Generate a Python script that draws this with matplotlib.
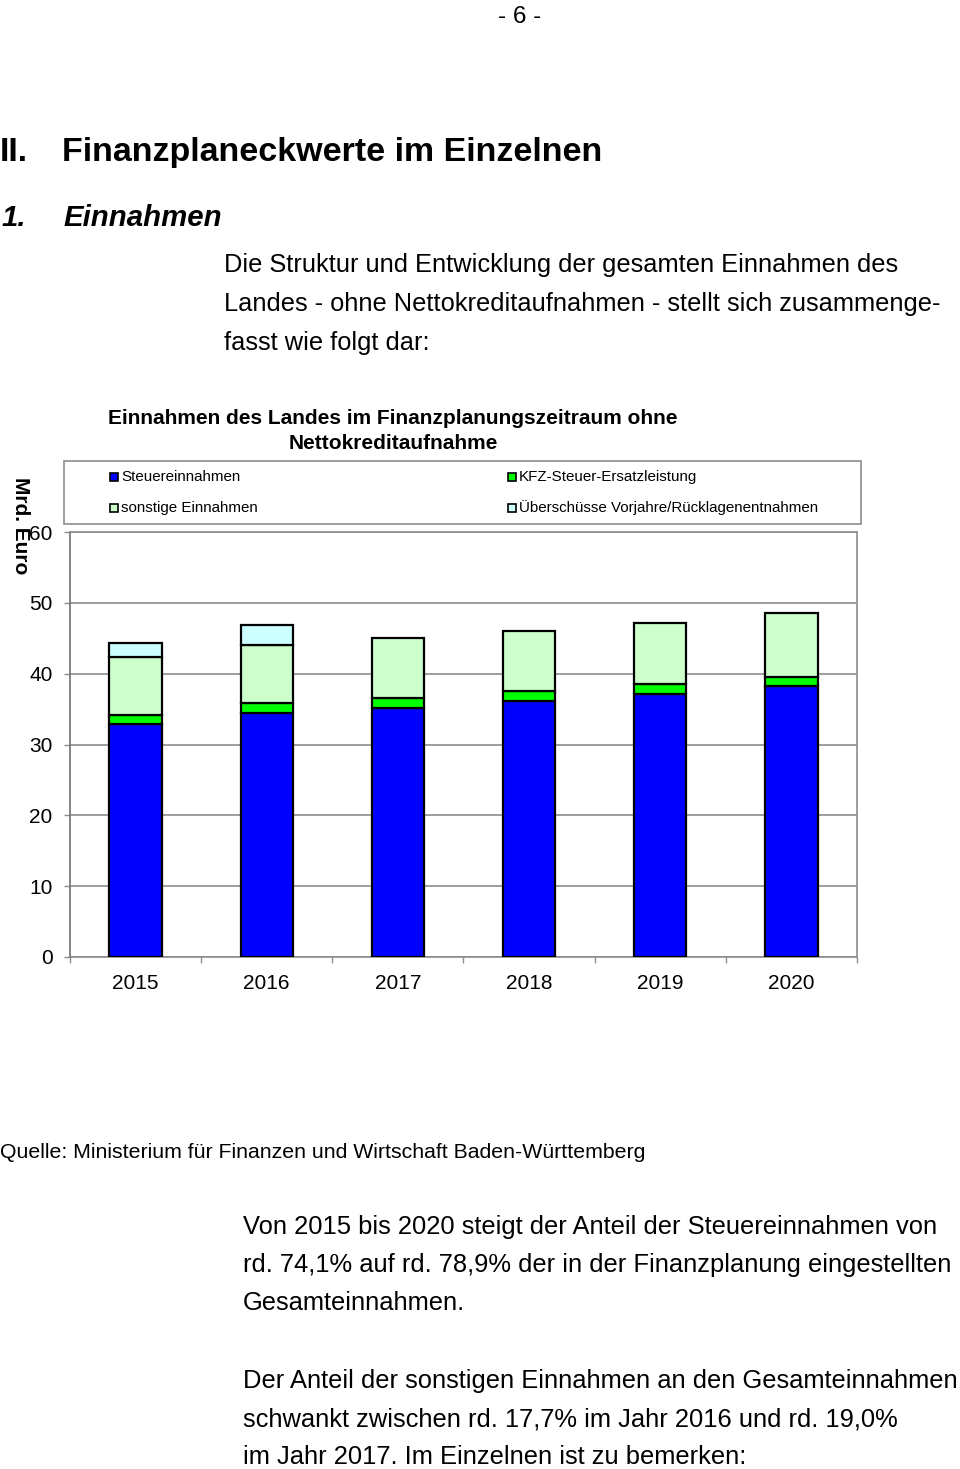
import matplotlib
matplotlib.use('Agg')
import matplotlib.pyplot as plt
from matplotlib.patches import Rectangle
import numpy as np

# ---------------- data ----------------
years = ['2015', '2016', '2017', '2018', '2019', '2020']
steuer = [32.9, 34.5, 35.2, 36.2, 37.2, 38.3]
kfz = [1.2, 1.3, 1.3, 1.35, 1.3, 1.3]
sonstige = [8.25, 8.25, 8.5, 8.45, 8.6, 8.9]
ueberschuss = [2.0, 2.8, 0.0, 0.0, 0.0, 0.0]
series_labels = ['Steuereinnahmen', 'KFZ-Steuer-Ersatzleistung',
                 'sonstige Einnahmen', 'Überschüsse Vorjahre/Rücklagenentnahmen']
yticks = [0, 10, 20, 30, 40, 50, 60]

colors = ['#0000FF', '#00FF00', '#CCFFCC', '#CCFFFF']

plt.rcParams['font.family'] = ['Liberation Sans', 'DejaVu Sans']

W, H = 960, 1469
fig = plt.figure(figsize=(9.6, 14.69), dpi=100)
renderer = fig.canvas.get_renderer()


def fx(x):
    return x / W


def fy(y):
    return 1 - y / H


def fit_size(s, target_w, size=14, **kw):
    t = fig.text(0, 0, s, fontsize=size, **kw)
    w = t.get_window_extent(renderer).width
    t.remove()
    return size * target_w / w


def put(x, y, s, size, **kw):
    return fig.text(fx(x), fy(y), s, fontsize=size, va='baseline', **kw)


# ---------------- page text ----------------
put(520, 23, '- 6 -', 17.5, ha='center')

hsize = fit_size('Finanzplaneckwerte im Einzelnen', 542, weight='bold')
put(0, 161, 'II.', hsize, weight='bold')
put(62, 161, 'Finanzplaneckwerte im Einzelnen', hsize, weight='bold')

isize = fit_size('Einnahmen', 159, weight='bold', style='italic')
put(2, 226, '1.', isize, weight='bold', style='italic')
put(63, 226, 'Einnahmen', isize, weight='bold', style='italic')

bsize = fit_size('Die Struktur und Entwicklung der gesamten Einnahmen des', 678)
intro = ['Die Struktur und Entwicklung der gesamten Einnahmen des',
         'Landes - ohne Nettokreditaufnahmen - stellt sich zusammenge-',
         'fasst wie folgt dar:']
for i, line in enumerate(intro):
    put(224, 272 + 39 * i, line, bsize)

# chart title
tsize = fit_size('Einnahmen des Landes im Finanzplanungszeitraum ohne', 572, weight='bold')
put(393, 424, 'Einnahmen des Landes im Finanzplanungszeitraum ohne', tsize,
    weight='bold', ha='center')
put(393, 449, 'Nettokreditaufnahme', tsize, weight='bold', ha='center')

# source
qsize = fit_size('Quelle: Ministerium für Finanzen und Wirtschaft Baden-Württemberg', 648)
put(0, 1158, 'Quelle: Ministerium für Finanzen und Wirtschaft Baden-Württemberg', qsize)

p1 = ['Von 2015 bis 2020 steigt der Anteil der Steuereinnahmen von',
      'rd. 74,1% auf rd. 78,9% der in der Finanzplanung eingestellten',
      'Gesamteinnahmen.']
p2 = ['Der Anteil der sonstigen Einnahmen an den Gesamteinnahmen',
      'schwankt zwischen rd. 17,7% im Jahr 2016 und rd. 19,0%',
      'im Jahr 2017. Im Einzelnen ist zu bemerken:']
psize = fit_size(p1[0], 698)
for i, line in enumerate(p1):
    put(243, 1234 + 38 * i, line, psize)
for i, line in enumerate(p2):
    put(243, 1388 + 38 * i, line, psize)

# ---------------- chart ----------------
ax = fig.add_axes([fx(70), fy(957), (857 - 70) / W, (957 - 532) / H])
x = np.arange(len(years))
bottom = np.zeros(len(years))
for vals, col in zip([steuer, kfz, sonstige, ueberschuss], colors):
    v = np.array(vals)
    mask = v > 0
    ax.bar(x[mask], v[mask], bottom=bottom[mask], width=0.4, color=col,
           edgecolor='black', linewidth=1.6, zorder=3)
    bottom += v

ax.set_xlim(-0.5, len(years) - 0.5)
ax.set_ylim(0, 60)
ax.set_yticks(yticks)
ax.set_yticklabels([str(v) for v in yticks])
ax.yaxis.grid(True, color='#8c8c8c', linewidth=1.2, zorder=0)
ax.set_axisbelow(True)
ax.set_xticks(x)
ax.set_xticklabels(years)
ax.set_xticks(np.arange(-0.5, len(years)), minor=True)
ax.tick_params(axis='x', which='major', length=0, pad=12.5, labelsize=15)
ax.tick_params(axis='x', which='minor', length=4.5, color='#8c8c8c', width=1)
ax.tick_params(axis='y', which='major', length=4.5, pad=8, color='#8c8c8c',
               width=1, labelsize=15)
for sp in ax.spines.values():
    sp.set_color('#8c8c8c')
    sp.set_linewidth(1.2)
ax.spines['left'].set_color('#707070')

fig.text(fx(20), fy(526), 'Mrd. Euro', rotation=270, ha='center', va='center',
         fontsize=15, weight='bold')

# legend box
fig.add_artist(Rectangle((fx(64), fy(524)), (861 - 64) / W, (524 - 461) / H,
                         transform=fig.transFigure, facecolor='white',
                         edgecolor='#8c8c8c', linewidth=1.2))
lsize = fit_size(series_labels[3], 302)
leg_pos = [(110, 477), (508, 477), (110, 508), (508, 508)]
for (lx, ly), lab, col in zip(leg_pos, series_labels, colors):
    fig.add_artist(Rectangle((fx(lx), fy(ly + 4)), 8 / W, 8 / H,
                             transform=fig.transFigure, facecolor=col,
                             edgecolor='black', linewidth=1.2))
    fig.text(fx(lx + 11), fy(ly), lab, fontsize=lsize, va='center')

fig.savefig('out.png', dpi=100)
